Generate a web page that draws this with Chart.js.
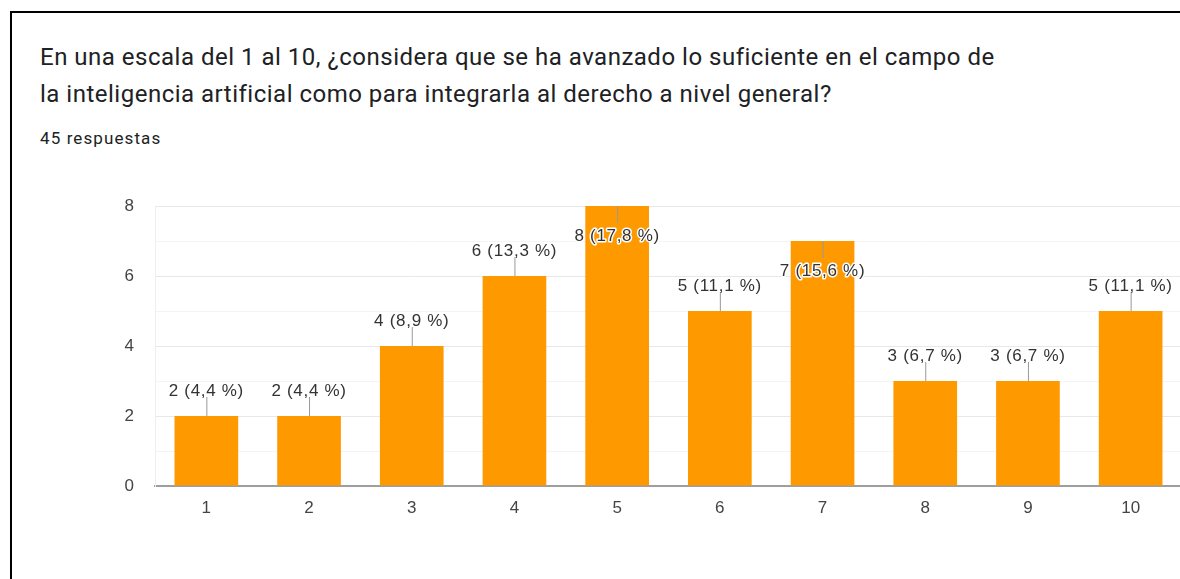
<!DOCTYPE html>
<html>
<head>
<meta charset="utf-8">
<script src="https://cdn.jsdelivr.net/npm/chart.js@4.4.1/dist/chart.umd.min.js"></script>
<style>
  html, body { margin: 0; padding: 0; background: #fff; }
  body { width: 1180px; height: 579px; position: relative; overflow: hidden; }
  .frame {
    position: absolute; left: 10px; top: 11px; width: 1200px; height: 600px;
    border-left: 2px solid #000; border-top: 2px solid #000;
  }
  .title {
    position: absolute; left: 40px; top: 39px;
    font-family: Roboto, sans-serif; font-size: 24px; line-height: 37px;
    letter-spacing: 0.5px; color: #202124; white-space: nowrap;
  }
  .count {
    position: absolute; left: 40px; top: 128px;
    font-family: Roboto, sans-serif; font-size: 17px; letter-spacing: 1.1px;
    color: #202124;
  }
  #chart { position: absolute; left: 0; top: 0; }
</style>
</head>
<body>
<div class="frame"></div>
<div class="title">En una escala del 1 al 10, ¿considera que se ha avanzado lo suficiente en el campo de<br>la inteligencia artificial como para integrarla al derecho a nivel general?</div>
<div class="count">45 respuestas</div>
<canvas id="chart" width="1182" height="579"></canvas>
<script>
'use strict';

// ── DATA ─────────────────────────────────────────────────────

const CATEGORIES = ['1', '2', '3', '4', '5', '6', '7', '8', '9', '10'];
const COUNTS     = [2, 2, 4, 6, 8, 5, 7, 3, 3, 5];
const PERCENTS   = ['4,4', '4,4', '8,9', '13,3', '17,8', '11,1', '15,6', '6,7', '6,7', '11,1'];
const Y_TICKS    = [0, 2, 4, 6, 8];

const BAR_COLOR  = '#FF9900';
const TEXT_COLOR = '#333333';
const TICK_COLOR = '#444444';
const FONT       = '"Liberation Sans", Arial, sans-serif';

// ── VALUE LABELS (google-charts style, with stem) ────────────

const valueLabels = {
  id: 'valueLabels',
  afterDatasetsDraw(chart) {
    const { ctx, chartArea } = chart;
    const meta = chart.getDatasetMeta(0);
    ctx.save();
    ctx.font = '17px ' + FONT;
    ctx.letterSpacing = '0.7px';
    ctx.textAlign = 'center';
    ctx.textBaseline = 'alphabetic';
    meta.data.forEach((bar, i) => {
      const text = COUNTS[i] + ' (' + PERCENTS[i] + ' %)';
      const inside = bar.y - 20 - 14 < chartArea.top + 10;
      ctx.strokeStyle = '#999';
      ctx.lineWidth = 1;
      ctx.beginPath();
      ctx.moveTo(bar.x + 0.5, bar.y);
      ctx.lineTo(bar.x + 0.5, inside ? bar.y + 17 : bar.y - 19);
      ctx.stroke();
      if (inside) {
        ctx.lineWidth = 3;
        ctx.strokeStyle = '#fff';
        ctx.lineJoin = 'round';
        ctx.strokeText(text, bar.x, bar.y + 35);
        ctx.fillStyle = TEXT_COLOR;
        ctx.fillText(text, bar.x, bar.y + 35);
      } else {
        ctx.fillStyle = TEXT_COLOR;
        ctx.fillText(text, bar.x, bar.y - 20);
      }
    });
    ctx.restore();
  },
};

// ── CHART ─────────────────────────────────────────────────────

new Chart(document.getElementById('chart'), {
  type: 'bar',
  data: {
    labels: CATEGORIES,
    datasets: [{
      data: COUNTS,
      backgroundColor: BAR_COLOR,
      borderWidth: 0,
      barPercentage: 0.62,
      categoryPercentage: 1,
    }],
  },
  options: {
    responsive: false,
    animation: false,
    layout: { padding: { left: 0, top: 206, right: 0, bottom: 0 } },
    plugins: { legend: { display: false }, tooltip: { enabled: false } },
    scales: {
      x: {
        afterFit: s => { s.height = 93; },
        grid: { display: false, drawTicks: false },
        border: { color: '#9e9e9e', width: 2 },
        ticks: { color: TICK_COLOR, font: { family: FONT, size: 17 }, padding: 12 },
      },
      y: {
        min: 0,
        max: 8,
        afterFit: s => { s.width = 155; },
        afterBuildTicks: s => {
          s.ticks = [0, 1, 2, 3, 4, 5, 6, 7, 8].map(v => ({ value: v }));
        },
        grid: {
          drawTicks: false,
          color: c => Y_TICKS.includes(c.tick.value) ? '#e8e8e8' : '#f4f4f4',
        },
        border: { color: '#eeeeee', width: 1 },
        ticks: {
          color: TICK_COLOR,
          font: { family: FONT, size: 17 },
          padding: 21,
          callback: v => Y_TICKS.includes(v) ? String(v) : '',
        },
      },
    },
  },
  plugins: [valueLabels],
});
</script>
</body>
</html>
